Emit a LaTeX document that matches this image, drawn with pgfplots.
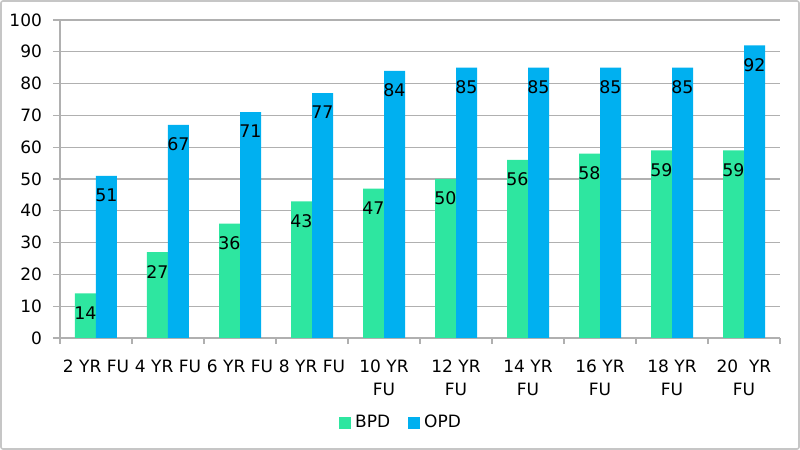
\documentclass[border=0pt]{standalone}
\usepackage{pgfplots}
\pgfplotsset{compat=1.18}
\usepackage{fontspec}
\setmainfont{DejaVu Sans}
\definecolor{bpd}{HTML}{2EE6A0}
\definecolor{opd}{HTML}{00B0F0}
\definecolor{gridc}{HTML}{B0B0B0}
\begin{document}
\begin{tikzpicture}
\path[use as bounding box] (0,0) rectangle (400pt,225pt);
\draw[gray!45, line width=0.8pt, rounded corners=1pt] (0.5pt,0.5pt) rectangle (399.5pt,224.5pt);
\begin{axis}[
  at={(30pt,56pt)}, anchor=south west,
  scale only axis, width=360pt, height=159pt,
  ybar=0pt, bar width=10.5pt,
  xmin=-0.5, xmax=9.5, ymin=0, ymax=100,
  axis lines*=left,
  axis line style={-, gridc, line width=0.6pt},
  xtick={0,...,9},
  xticklabels={2 YR FU,4 YR FU,6 YR FU,8 YR FU,{10 YR\\FU},{12 YR\\FU},{14 YR\\FU},{16 YR\\FU},{18 YR\\FU},{20\ \ YR\\FU}},
  major x tick style={draw=none},
  minor xtick={-0.5,0.5,...,9.5},
  minor x tick style={gridc, line width=0.6pt},
  minor tick length=3pt,
  ytick={0,10,...,100},
  major y tick style={gridc, line width=0.6pt},
  major tick length=3.5pt,
  tick align=outside,
  ymajorgrids,
  grid style={gridc, line width=0.6pt},
  xticklabel style={font=\fontsize{8.5}{11.5}\selectfont, align=center, yshift=-4pt},
  yticklabel style={font=\fontsize{8.5}{10}\selectfont, xshift=-2pt},
  /pgf/number format/assume math mode=true,
  nodes near coords,
  every node near coord/.append style={anchor=north, yshift=-3pt, font=\fontsize{8.7}{10}\selectfont, black},
  legend style={at={(0.475,-0.267)}, anchor=center, draw=none, fill=none,
    font=\fontsize{8.5}{10}\selectfont, legend columns=2,
    /tikz/every even column/.append style={column sep=7pt}},
  legend cell align=left,
]
\addplot[fill=bpd, draw=none, legend image code/.code={\fill[bpd] (0pt,-3pt) rectangle (6pt,3pt);}] coordinates {(0,14) (1,27) (2,36) (3,43) (4,47) (5,50) (6,56) (7,58) (8,59) (9,59)};
\addplot[fill=opd, draw=none, legend image code/.code={\fill[opd] (0pt,-3pt) rectangle (6pt,3pt);}] coordinates {(0,51) (1,67) (2,71) (3,77) (4,84) (5,85) (6,85) (7,85) (8,85) (9,92)};
\legend{BPD,OPD}
\end{axis}
\end{tikzpicture}
\end{document}
